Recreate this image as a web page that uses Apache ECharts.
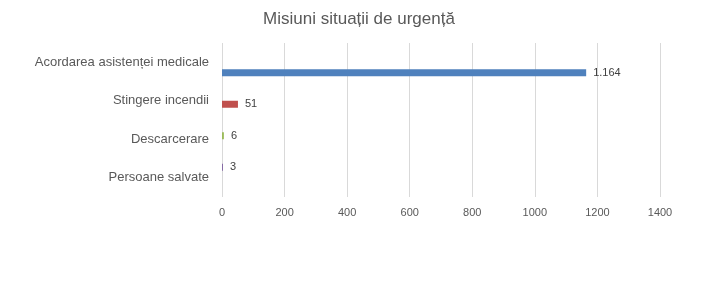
<!DOCTYPE html>
<html><head><meta charset="utf-8">
<script src="https://cdn.jsdelivr.net/npm/echarts@6/dist/echarts.min.js"></script>
<style>html,body{margin:0;padding:0;background:#fff}#c{width:708px;height:295px}</style>
</head><body><div id="c"></div>
<script>
// Categories listed bottom-to-top (ECharts y category axis order)
const categories = ["Persoane salvate", "Descarcerare", "Stingere incendii", "Acordarea asistenței medicale"];
const seriesNames = ["Persoane salvate", "Descarcerare", "Stingere incendii", "Acordarea asistenței medicale"];
const seriesValues = [3, 6, 51, 1164];
const seriesColors = ["#8064A2", "#9BBB59", "#C0504D", "#4F81BD"];
const xTicks = [0, 200, 400, 600, 800, 1000, 1200, 1400];
const title = "Misiuni situații de urgență";

const font = "Liberation Sans";
function fmt(v){ return String(v).replace(/\B(?=(\d{3})+(?!\d))/g, "."); }

const series = seriesNames.map((name, i) => ({
  name: name,
  type: "bar",
  barWidth: 7,
  barGap: "0%",
  itemStyle: { color: seriesColors[i] },
  label: {
    show: true, position: "right", distance: 7,
    color: "#404040", fontSize: 11, fontFamily: font,
    formatter: p => fmt(p.value)
  },
  data: categories.map(c => c === name ? seriesValues[i] : null)
}));

const chart = echarts.init(document.getElementById("c"), null, { renderer: "canvas" });
chart.setOption({
  animation: false,
  title: {
    text: title, left: 354, top: 6, textAlign: "center",
    textStyle: { fontFamily: font, fontSize: 17, fontWeight: "normal", color: "#595959" }
  },
  grid: { left: 222, right: 48, top: 43, bottom: 98, containLabel: false },
  xAxis: {
    type: "value", min: xTicks[0], max: xTicks[xTicks.length - 1], interval: 200,
    axisLine: { show: false }, axisTick: { show: false },
    splitLine: { lineStyle: { color: "#D9D9D9", width: 1 } },
    axisLabel: { color: "#595959", fontSize: 11, fontFamily: font, margin: 10, formatter: v => String(v) }
  },
  yAxis: {
    type: "category", data: categories,
    axisLine: { show: false }, axisTick: { show: false },
    axisLabel: { color: "#595959", fontSize: 13, fontFamily: font, margin: 13 }
  },
  series: series
});
</script></body></html>
